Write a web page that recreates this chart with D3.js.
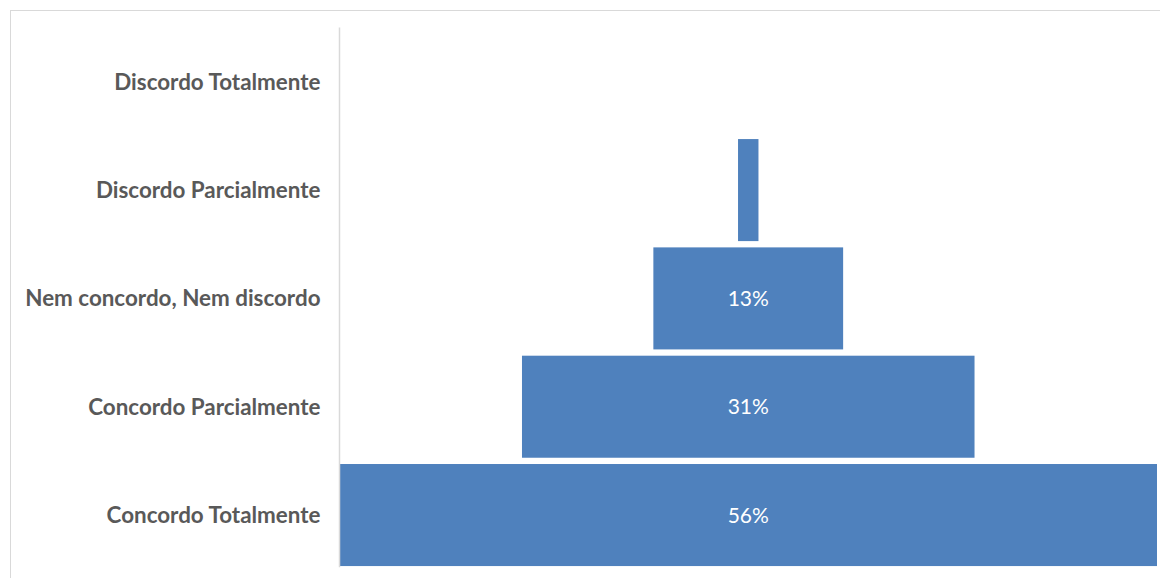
<!DOCTYPE html>
<html>
<head>
<meta charset="utf-8">
<script src="https://cdn.jsdelivr.net/npm/d3@7"></script>
<style>
  html, body { margin: 0; padding: 0; background: #fff; }
  svg { display: block; }
</style>
</head>
<body>
<svg id="chart" width="1160" height="578"></svg>
<script>
// Response categories, top to bottom
const categories = [
  "Discordo Totalmente",
  "Discordo Parcialmente",
  "Nem concordo, Nem discordo",
  "Concordo Parcialmente",
  "Concordo Totalmente"
];
// Share of responses (%)
const values = [0, 1.4, 13, 31, 56];
// Value labels shown inside the bars (empty where none is drawn)
const valueLabels = ["", "", "13%", "31%", "56%"];

const svg = d3.select("#chart");
const W = 1160, H = 578;

// chart frame
svg.append("rect")
  .attr("x", 10.5).attr("y", 10.5)
  .attr("width", W + 10).attr("height", H + 10)
  .attr("fill", "none").attr("stroke", "#d9d9d9").attr("stroke-width", 1);

const plot = { left: 339.5, right: 1157, top: 27.6, bottom: 569.2 };
const center = (plot.left + plot.right) / 2;
const halfWidth = (plot.right - plot.left) / 2;

const y = d3.scaleBand()
  .domain(categories)
  .range([plot.top, plot.bottom])
  .paddingInner(0.058)
  .paddingOuter(0.029);

// half-width scale: bars grow symmetrically from the centre line
const w = d3.scaleLinear()
  .domain([0, d3.max(values)])
  .range([0, halfWidth]);

const data = categories.map((c, i) => ({ c, v: values[i], label: valueLabels[i] }));

// funnel bars
svg.append("g").selectAll("rect")
  .data(data.filter(d => d.v > 0))
  .join("rect")
  .attr("x", d => center - w(d.v))
  .attr("width", d => 2 * w(d.v))
  .attr("y", d => y(d.c))
  .attr("height", y.bandwidth())
  .attr("fill", "#4F81BD");

// value labels
svg.append("g").selectAll("text")
  .data(data.filter(d => d.label))
  .join("text")
  .attr("x", center)
  .attr("y", d => y(d.c) + y.bandwidth() / 2)
  .attr("dy", "0.36em")
  .attr("text-anchor", "middle")
  .attr("fill", "#ffffff")
  .style("font-family", "Lato, 'Open Sans', sans-serif")
  .style("font-size", "21px")
  .text(d => d.label);

// category axis
const axis = d3.axisLeft(y).tickSize(0).tickPadding(19);
const gAxis = svg.append("g")
  .attr("transform", `translate(${plot.left},0)`)
  .call(axis);
gAxis.select(".domain")
  .attr("d", `M0,${plot.top}V${plot.bottom - 2}`)
  .attr("stroke", "#d9d9d9").attr("stroke-width", 1.5);
gAxis.selectAll("text")
  .attr("fill", "#595959")
  .attr("dy", "0.36em")
  .style("font-family", "Lato, 'Open Sans', sans-serif")
  .style("font-weight", "bold")
  .style("font-size", "22.4px");
</script>
</body>
</html>
